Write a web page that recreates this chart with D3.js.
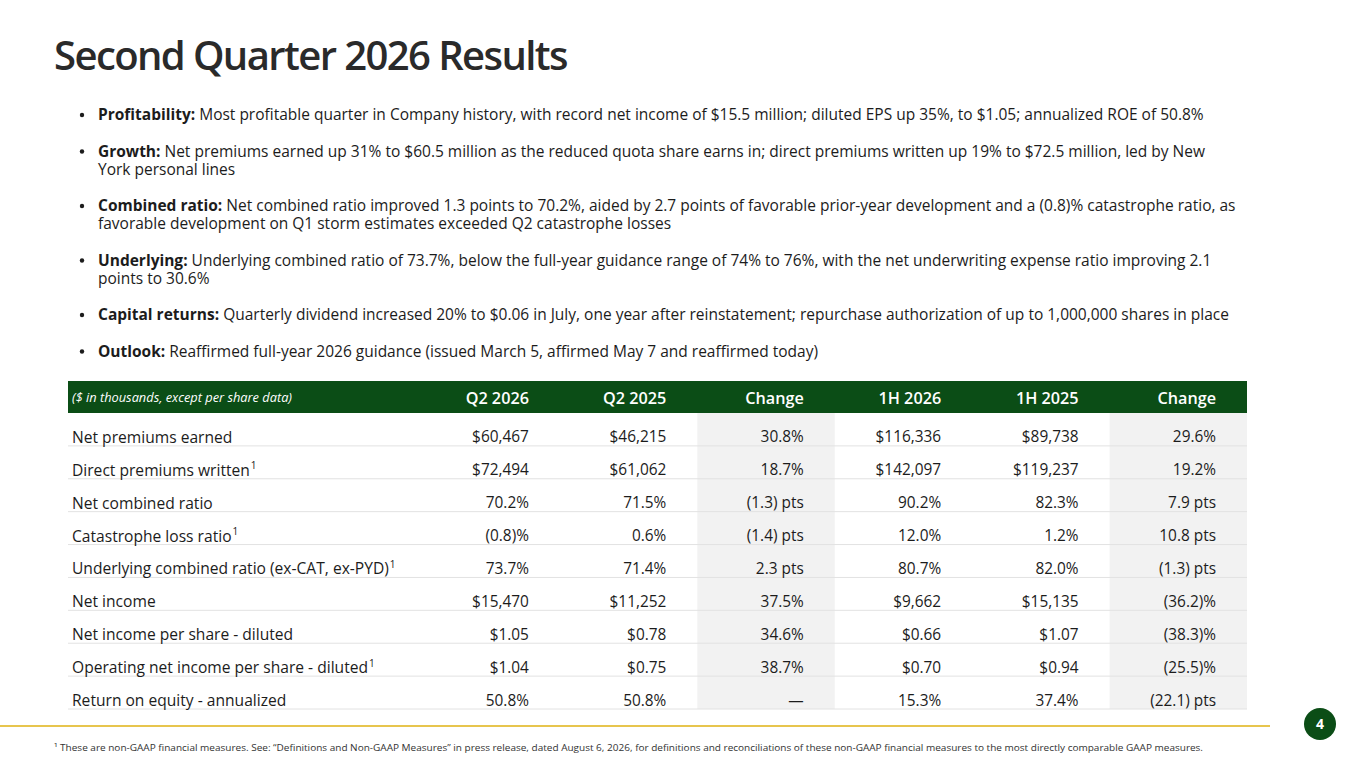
<!DOCTYPE html>
<html>
<head>
<meta charset="utf-8">
<script src="https://cdn.jsdelivr.net/npm/d3@7"></script>
<style>
  html, body { margin: 0; padding: 0; background: #fff; }
  svg { display: block; font-family: "Open Sans", "Noto Sans", sans-serif; }
</style>
</head>
<body>
<div id="slide"></div>
<script>
// --- data ---
const title = "Second Quarter 2026 Results";

const bulletHeads = ["Profitability:", "Growth:", "Combined ratio:", "Underlying:", "Capital returns:", "Outlook:"];
const bulletLines = [
  ["Most profitable quarter in Company history, with record net income of $15.5 million; diluted EPS up 35%, to $1.05; annualized ROE of 50.8%"],
  ["Net premiums earned up 31% to $60.5 million as the reduced quota share earns in; direct premiums written up 19% to $72.5 million, led by New",
   "York personal lines"],
  ["Net combined ratio improved 1.3 points to 70.2%, aided by 2.7 points of favorable prior-year development and a (0.8)% catastrophe ratio, as",
   "favorable development on Q1 storm estimates exceeded Q2 catastrophe losses"],
  ["Underlying combined ratio of 73.7%, below the full-year guidance range of 74% to 76%, with the net underwriting expense ratio improving 2.1",
   "points to 30.6%"],
  ["Quarterly dividend increased 20% to $0.06 in July, one year after reinstatement; repurchase authorization of up to 1,000,000 shares in place"],
  ["Reaffirmed full-year 2026 guidance (issued March 5, affirmed May 7 and reaffirmed today)"]
];

const unitNote = "($ in thousands, except per share data)";
const columns = ["Q2 2026", "Q2 2025", "Change", "1H 2026", "1H 2025", "Change "];
const shadedColumns = ["Change", "Change "];

const rowLabels = [
  "Net premiums earned",
  "Direct premiums written",
  "Net combined ratio",
  "Catastrophe loss ratio",
  "Underlying combined ratio (ex-CAT, ex-PYD)",
  "Net income",
  "Net income per share - diluted",
  "Operating net income per share - diluted",
  "Return on equity - annualized"
];
const nonGaap = [false, true, false, true, true, false, false, true, false];

const q2_2026 = ["$60,467", "$72,494", "70.2%", "(0.8)%", "73.7%", "$15,470", "$1.05", "$1.04", "50.8%"];
const q2_2025 = ["$46,215", "$61,062", "71.5%", "0.6%", "71.4%", "$11,252", "$0.78", "$0.75", "50.8%"];
const q2Change = ["30.8%", "18.7%", "(1.3) pts", "(1.4) pts", "2.3 pts", "37.5%", "34.6%", "38.7%", "\u2014"];
const h1_2026 = ["$116,336", "$142,097", "90.2%", "12.0%", "80.7%", "$9,662", "$0.66", "$0.70", "15.3%"];
const h1_2025 = ["$89,738", "$119,237", "82.3%", "1.2%", "82.0%", "$15,135", "$1.07", "$0.94", "37.4%"];
const h1Change = ["29.6%", "19.2%", "7.9 pts", "10.8 pts", "(1.3) pts", "(36.2)%", "(38.3)%", "(25.5)%", "(22.1) pts"];

const footnote = "\u00b9 These are non-GAAP financial measures. See: \u201cDefinitions and Non-GAAP Measures\u201d in press release, dated August 6, 2026, for definitions and reconciliations of these non-GAAP financial measures to the most directly comparable GAAP measures.";
const pageNumber = "4";

// --- drawing ---
const W = 1365, H = 768;
const green = "#0b4d16", ink = "#1c1c1c";

const svg = d3.select("#slide").append("svg")
  .attr("width", W)
  .attr("height", H);

svg.append("text")
  .attr("x", 54)
  .attr("y", 70)
  .attr("font-size", 40)
  .attr("font-weight", 600)
  .attr("letter-spacing", -1.6)
  .attr("fill", "#2a2a2a")
  .attr("textLength", 513)
  .attr("lengthAdjust", "spacingAndGlyphs")
  .text(title);

// bullets: one text per paragraph, wrapped lines as tspans
let by = 120;
const lineStep = 18;
const bullets = svg.append("g").attr("font-size", 15.5).attr("fill", ink);
bulletHeads.forEach((head, i) => {
  bullets.append("circle").attr("cx", 82).attr("cy", by - 5).attr("r", 2.2).attr("fill", ink);
  const t = bullets.append("text").attr("x", 98).attr("y", by);
  bulletLines[i].forEach((line, j) => {
    if (j === 0) {
      t.append("tspan").attr("font-weight", 700).text(head + " ");
      t.append("tspan").text(line);
    } else {
      t.append("tspan").attr("x", 98).attr("dy", lineStep).text(line);
    }
  });
  by += 36.5 + lineStep * (bulletLines[i].length - 1);
});

// table
const cols = [q2_2026, q2_2025, q2Change, h1_2026, h1_2025, h1Change];
const tableLeft = 68, tableRight = 1247;
const headTop = 381, headBottom = 413, tableBottom = 709;

const x = d3.scaleBand()
  .domain(columns)
  .range([422.5, tableRight]);

const y = d3.scaleBand()
  .domain(rowLabels)
  .range([headBottom, tableBottom]);

const table = svg.append("g");

table.selectAll("rect.shade")
  .data(shadedColumns)
  .join("rect")
  .attr("class", "shade")
  .attr("x", d => x(d))
  .attr("y", headBottom)
  .attr("width", x.bandwidth())
  .attr("height", tableBottom - headBottom)
  .attr("fill", "#f2f2f2");

table.append("rect")
  .attr("x", tableLeft)
  .attr("y", headTop)
  .attr("width", tableRight - tableLeft)
  .attr("height", headBottom - headTop)
  .attr("fill", green);

table.append("text")
  .attr("x", 72)
  .attr("y", 402)
  .attr("font-size", 12.8)
  .attr("font-style", "italic")
  .attr("fill", "#fff")
  .text(unitNote);

table.selectAll("text.colhead")
  .data(columns)
  .join("text")
  .attr("class", "colhead")
  .attr("x", d => x(d) + x.bandwidth() - 31)
  .attr("y", 404)
  .attr("text-anchor", "end")
  .attr("font-size", 16.2)
  .attr("font-weight", 600)
  .attr("fill", "#fff")
  .text(d => d.trim());

table.selectAll("line.rule")
  .data(rowLabels)
  .join("line")
  .attr("class", "rule")
  .attr("x1", tableLeft)
  .attr("x2", tableRight)
  .attr("y1", d => y(d) + y.bandwidth())
  .attr("y2", d => y(d) + y.bandwidth())
  .attr("stroke", "#e2e2e2")
  .attr("stroke-width", 1);

const labels = table.selectAll("text.rowlabel")
  .data(rowLabels)
  .join("text")
  .attr("class", "rowlabel")
  .attr("x", 72)
  .attr("y", d => y(d) + y.bandwidth() - 3)
  .attr("font-size", 15.6)
  .attr("fill", ink);
labels.append("tspan").text(d => d);
labels.filter((d, i) => nonGaap[i])
  .append("tspan")
  .attr("font-size", 10)
  .attr("dx", 1)
  .attr("dy", -6.5)
  .text("1");

cols.forEach((vals, c) => {
  table.append("g").selectAll("text")
    .data(vals)
    .join("text")
    .attr("x", x(columns[c]) + x.bandwidth() - 31)
    .attr("y", (d, i) => y(rowLabels[i]) + y.bandwidth() - 3.5)
    .attr("text-anchor", "end")
    .attr("font-size", 15.4)
    .attr("fill", ink)
    .text(d => d);
});

// footer
svg.append("line")
  .attr("x1", 0).attr("x2", 1270)
  .attr("y1", 726).attr("y2", 726)
  .attr("stroke", "#e7c54e")
  .attr("stroke-width", 1.8);

svg.append("circle")
  .attr("cx", 1320).attr("cy", 724).attr("r", 16)
  .attr("fill", green);

svg.append("text")
  .attr("x", 1320).attr("y", 729)
  .attr("text-anchor", "middle")
  .attr("font-size", 14)
  .attr("font-weight", 700)
  .attr("fill", "#fff")
  .text(pageNumber);

svg.append("text")
  .attr("x", 54).attr("y", 751)
  .attr("font-size", 9.6)
  .attr("fill", "#333")
  .attr("textLength", 1149)
  .attr("lengthAdjust", "spacingAndGlyphs")
  .text(footnote);
</script>
</body>
</html>
